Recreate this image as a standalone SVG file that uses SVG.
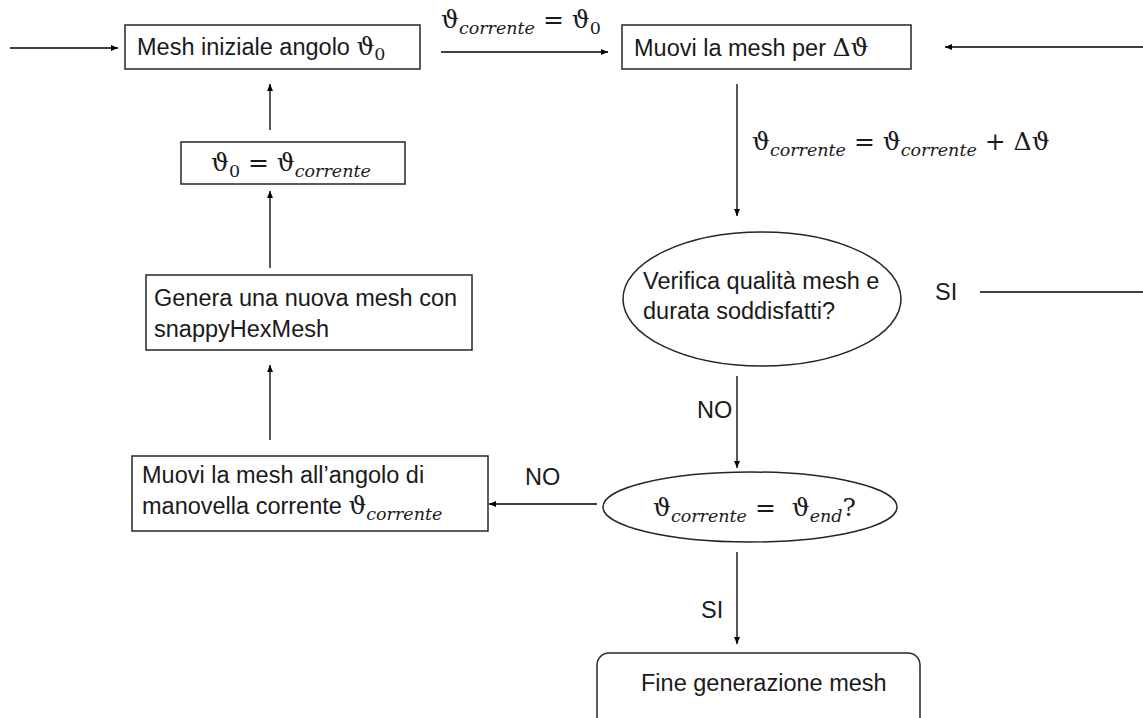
<svg xmlns="http://www.w3.org/2000/svg" width="1143" height="718" viewBox="0 0 1143 718">
<defs>
<marker id="ah" markerWidth="8" markerHeight="8" refX="7" refY="4" orient="auto" markerUnits="userSpaceOnUse">
<path d="M0,1 L7,4 L0,7 Z" fill="#000"/>
</marker>
<style>
.box{fill:#fff;stroke:#262626;stroke-width:1.5}
.t{font-family:"Liberation Sans",Arial,sans-serif;font-size:23.5px;fill:#1a1a1a}
.m{font-family:"DejaVu Serif","Liberation Serif",serif;font-size:25px;fill:#1a1a1a}
.s{font-family:"DejaVu Serif","Liberation Serif",serif;font-style:italic;font-size:17.5px}
.z{font-family:"DejaVu Serif","Liberation Serif",serif;font-size:17.5px}
.c{stroke:#000;stroke-width:1.3;fill:none}
.ca{stroke:#000;stroke-width:1.3;fill:none;marker-end:url(#ah)}
</style>
</defs>
<rect width="1143" height="718" fill="#fff"/>
<g id="connectors">
<line class="ca" x1="10" y1="48" x2="118" y2="48"/>
<line class="ca" x1="441" y1="52" x2="608" y2="52"/>
<line class="ca" x1="1143" y1="47" x2="945" y2="47"/>
<line class="ca" x1="737" y1="84" x2="737" y2="216"/>
<line class="c" x1="980" y1="292" x2="1143" y2="292"/>
<line class="ca" x1="737" y1="376" x2="737" y2="468"/>
<line class="ca" x1="597" y1="504" x2="489" y2="504"/>
<line class="ca" x1="270" y1="440" x2="270" y2="365"/>
<line class="ca" x1="270" y1="268" x2="270" y2="191"/>
<line class="ca" x1="270" y1="130" x2="270" y2="84"/>
<line class="ca" x1="737" y1="552" x2="737" y2="644"/>
<text class="m" x="441" y="28">ϑ<tspan class="s" dy="6">corrente</tspan><tspan dy="-6"> = ϑ</tspan><tspan class="z" dy="6">0</tspan></text>
<text class="m" x="752" y="150">ϑ<tspan class="s" dy="6">corrente</tspan><tspan dy="-6"> = ϑ</tspan><tspan class="s" dy="6">corrente</tspan><tspan dy="-6"> + Δϑ</tspan></text>
<text class="t" x="935" y="300">SI</text>
<text class="t" x="697" y="418">NO</text>
<text class="t" x="525" y="485">NO</text>
<text class="t" x="701" y="618">SI</text>
</g>
<g id="n1">
<rect class="box" x="125" y="25" width="295" height="44"/>
<text class="t" x="137" y="55">Mesh iniziale angolo <tspan class="m">ϑ</tspan><tspan class="z" dy="5">0</tspan></text>
</g>
<g id="n2">
<rect class="box" x="622" y="25" width="289" height="44"/>
<text class="t" x="634" y="56">Muovi la mesh per <tspan class="m">Δϑ</tspan></text>
</g>
<g id="n3">
<ellipse class="box" cx="762" cy="299" rx="139" ry="67"/>
<text class="t" x="643" y="289">Verifica qualità mesh e</text>
<text class="t" x="643" y="319">durata soddisfatti?</text>
</g>
<g id="n4">
<ellipse class="box" cx="750" cy="507" rx="147" ry="35"/>
<text class="m" x="653" y="516">ϑ<tspan class="s" dy="6">corrente</tspan><tspan dy="-6"> =&#160; ϑ</tspan><tspan class="s" dy="6">end</tspan><tspan dy="-6">?</tspan></text>
</g>
<g id="n5">
<rect class="box" x="132" y="456" width="356" height="75"/>
<text class="t" x="142" y="483">Muovi la mesh all’angolo di</text>
<text class="t" x="142" y="514">manovella corrente <tspan class="m">ϑ</tspan><tspan class="s" dy="6">corrente</tspan></text>
</g>
<g id="n6">
<rect class="box" x="146" y="275" width="326" height="75"/>
<text class="t" x="154" y="306">Genera una nuova mesh con</text>
<text class="t" x="154" y="337">snappyHexMesh</text>
</g>
<g id="n7">
<rect class="box" x="181" y="142" width="224" height="42"/>
<text class="m" x="211" y="171">ϑ<tspan class="z" dy="6">0</tspan><tspan dy="-6"> = ϑ</tspan><tspan class="s" dy="6">corrente</tspan></text>
</g>
<g id="n8">
<rect class="box" x="597" y="653" width="323" height="80" rx="12"/>
<text class="t" x="641" y="691">Fine generazione mesh</text>
</g>
</svg>
